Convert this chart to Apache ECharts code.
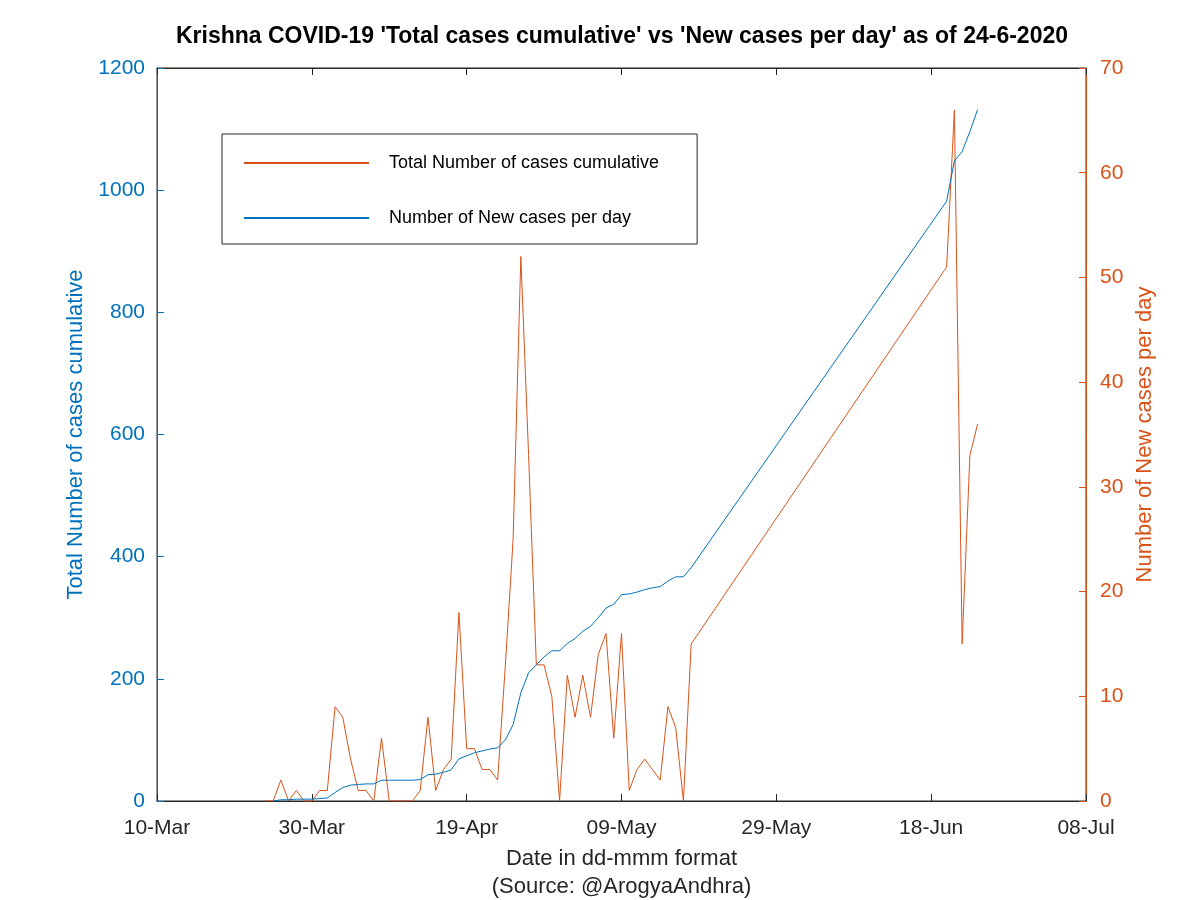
<!DOCTYPE html>
<html>
<head>
<meta charset="utf-8">
<script src="https://cdn.jsdelivr.net/npm/echarts@6/dist/echarts.min.js"></script>
<style>
html,body{margin:0;padding:0;background:#fff;}
#chart{width:1200px;height:900px;}
</style>
</head>
<body>
<div id="chart"></div>
<script>
// ---- data ----
const dates = [
  '2020-03-24','2020-03-25','2020-03-26','2020-03-27','2020-03-28','2020-03-29','2020-03-30','2020-03-31',
  '2020-04-01','2020-04-02','2020-04-03','2020-04-04','2020-04-05','2020-04-06','2020-04-07','2020-04-08',
  '2020-04-09','2020-04-10','2020-04-11','2020-04-12','2020-04-13','2020-04-14','2020-04-15','2020-04-16',
  '2020-04-17','2020-04-18','2020-04-19','2020-04-20','2020-04-21','2020-04-22','2020-04-23','2020-04-24',
  '2020-04-25','2020-04-26','2020-04-27','2020-04-28','2020-04-29','2020-04-30','2020-05-01','2020-05-02',
  '2020-05-03','2020-05-04','2020-05-05','2020-05-06','2020-05-07','2020-05-08','2020-05-09','2020-05-10',
  '2020-05-11','2020-05-12','2020-05-13','2020-05-14','2020-05-15','2020-05-16','2020-05-17','2020-05-18',
  '2020-06-20','2020-06-21','2020-06-22','2020-06-23','2020-06-24'
];
const newCases = [
  0,0,2,0,1,0,0,1,
  1,9,8,4,1,1,0,6,
  0,0,0,0,1,8,1,3,
  4,18,5,5,3,3,2,13,
  25,52,33,13,13,10,0,12,
  8,12,8,14,16,6,16,1,
  3,4,3,2,9,7,0,15,
  51,66,15,33,36
];
const totalCases = [
  null,0,2,2,3,3,3,4,
  5,14,22,26,27,28,28,34,
  34,34,34,34,35,43,44,47,
  51,69,74,79,82,85,87,100,
  125,177,210,223,236,246,246,258,
  266,278,286,300,316,322,338,339,
  342,346,349,351,360,367,367,382,
  982,1048,1063,1096,1132
];
const xStart = '2020-03-10';
const xEnd = '2020-07-08';
const leftTicks = [0, 200, 400, 600, 800, 1000, 1200];
const rightTicks = [0, 10, 20, 30, 40, 50, 60, 70];
const monthNames = ['Jan','Feb','Mar','Apr','May','Jun','Jul','Aug','Sep','Oct','Nov','Dec'];

// ---- helpers ----
const DAY = 86400000;
const t0 = Date.UTC(2020, 2, 10);
function dayIndex(s) {
  const p = s.split('-').map(Number);
  return Math.round((Date.UTC(p[0], p[1] - 1, p[2]) - t0) / DAY);
}
function fmtDay(v) {
  const d = new Date(t0 + v * DAY);
  const dd = String(d.getUTCDate()).padStart(2, '0');
  return dd + '-' + monthNames[d.getUTCMonth()];
}
const xs = dates.map(dayIndex);
const orangeData = xs.map((x, i) => [x, newCases[i]]);
const blueData = xs.map((x, i) => [x, totalCases[i]]);

const BLUE = '#0072BD', ORANGE = '#D95319', DARK = '#262626';
const FONT = 'Liberation Sans, Arial, Helvetica, sans-serif';

const chart = echarts.init(document.getElementById('chart'), null, {renderer: 'canvas'});
chart.setOption({
  animation: false,
  backgroundColor: '#ffffff',
  title: {
    text: "Krishna COVID-19 'Total cases cumulative' vs 'New cases per day' as of 24-6-2020",
    left: 617, top: 20, textAlign: 'center',
    textStyle: {fontFamily: FONT, fontWeight: 'bold', fontSize: 23, color: '#000'}
  },
  grid: {left: 157, right: 114, top: 68, bottom: 99, show: true, borderColor: DARK, borderWidth: 1,
         containLabel: false, outerBoundsMode: 'none'},
  legend: {
    orient: 'vertical', left: 222, top: 134,
    backgroundColor: '#fff', borderColor: DARK, borderWidth: 1,
    padding: [20, 38, 17, 21], itemGap: 37, itemWidth: 125, itemHeight: 17,
    itemStyle: {opacity: 0},
    textStyle: {fontFamily: FONT, fontSize: 18, color: '#000', padding: [0, 0, 0, 15]},
    data: ['Total Number of cases cumulative', 'Number of New cases per day']
  },
  xAxis: [{
    type: 'value', min: dayIndex(xStart), max: dayIndex(xEnd), interval: 20,
    axisLine: {onZero: false, lineStyle: {color: DARK, width: 1}},
    axisTick: {inside: true, length: 7, lineStyle: {color: DARK}},
    splitLine: {show: false},
    axisLabel: {formatter: fmtDay, fontFamily: FONT, fontSize: 21, color: DARK, margin: 17},
    name: 'Date in dd-mmm format\n(Source: @ArogyaAndhra)', nameLocation: 'middle', nameGap: 44,
    nameTextStyle: {fontFamily: FONT, fontSize: 22, color: DARK, lineHeight: 28}
  }, {
    type: 'value', position: 'top', min: dayIndex(xStart), max: dayIndex(xEnd), interval: 20,
    axisLine: {onZero: false, lineStyle: {color: DARK, width: 1}},
    axisTick: {inside: true, length: 7, lineStyle: {color: DARK}},
    axisLabel: {show: false}, splitLine: {show: false}
  }],
  yAxis: [{
    type: 'value', min: leftTicks[0], max: leftTicks[leftTicks.length - 1], interval: 200,
    axisLine: {show: true, onZero: false, lineStyle: {color: BLUE, width: 1}},
    axisTick: {show: true, inside: true, length: 7, lineStyle: {color: BLUE}},
    splitLine: {show: false},
    axisLabel: {formatter: v => String(v), fontFamily: FONT, fontSize: 21, color: BLUE, margin: 12},
    name: 'Total Number of cases cumulative', nameLocation: 'middle', nameGap: 59,
    nameTextStyle: {fontFamily: FONT, fontSize: 22, color: BLUE}
  }, {
    type: 'value', position: 'right', min: rightTicks[0], max: rightTicks[rightTicks.length - 1], interval: 10,
    axisLine: {show: true, onZero: false, lineStyle: {color: ORANGE, width: 1}},
    axisTick: {show: true, inside: true, length: 7, lineStyle: {color: ORANGE}},
    splitLine: {show: false},
    axisLabel: {formatter: v => String(v), fontFamily: FONT, fontSize: 21, color: ORANGE, margin: 14},
    name: 'Number of New cases per day', nameLocation: 'middle', nameGap: 47,
    nameTextStyle: {fontFamily: FONT, fontSize: 22, color: ORANGE}
  }],
  series: [{
    name: 'Total Number of cases cumulative',
    type: 'line', xAxisIndex: 0, yAxisIndex: 1,
    data: orangeData, symbol: 'none', showSymbol: false,
    lineStyle: {color: ORANGE, width: 1}, itemStyle: {color: ORANGE}
  }, {
    name: 'Number of New cases per day',
    type: 'line', xAxisIndex: 0, yAxisIndex: 0,
    data: blueData, symbol: 'none', showSymbol: false, connectNulls: false,
    lineStyle: {color: BLUE, width: 1}, itemStyle: {color: BLUE}
  }]
});
</script>
</body>
</html>
